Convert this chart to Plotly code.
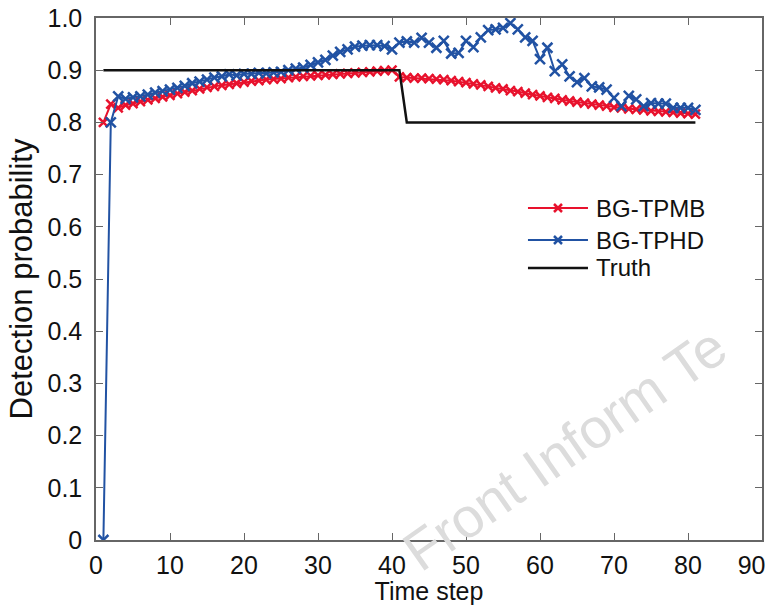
import plotly.graph_objects as go

time_steps = list(range(1, 82))

bg_tpmb = [
    0.800, 0.835, 0.828, 0.833, 0.836, 0.840, 0.843, 0.846, 0.849, 0.852,
    0.855, 0.858, 0.861, 0.864, 0.867, 0.869, 0.871, 0.873, 0.875, 0.877,
    0.879, 0.880, 0.882, 0.883, 0.884, 0.886, 0.887, 0.888, 0.889, 0.890,
    0.891, 0.892, 0.893, 0.894, 0.895, 0.896, 0.897, 0.898, 0.899, 0.900,
    0.887, 0.886, 0.885, 0.885, 0.884, 0.883, 0.882, 0.880, 0.878, 0.876,
    0.874, 0.872, 0.869, 0.866, 0.864, 0.861, 0.859, 0.856, 0.853, 0.851,
    0.848, 0.846, 0.843, 0.841, 0.839, 0.837, 0.835, 0.833, 0.831, 0.829,
    0.828, 0.826, 0.825, 0.824, 0.822, 0.821, 0.820, 0.819, 0.818, 0.817,
    0.816,
]

bg_tphd = [
    0.000, 0.800, 0.850, 0.845, 0.848, 0.850, 0.853, 0.857, 0.860, 0.863,
    0.866, 0.870, 0.875, 0.878, 0.882, 0.886, 0.888, 0.892, 0.890, 0.893,
    0.893, 0.895, 0.894, 0.896, 0.897, 0.900, 0.903, 0.905, 0.910, 0.915,
    0.920, 0.928, 0.935, 0.940, 0.945, 0.947, 0.948, 0.948, 0.946, 0.940,
    0.953, 0.955, 0.953, 0.962, 0.953, 0.943, 0.956, 0.932, 0.933, 0.956,
    0.944, 0.963, 0.977, 0.978, 0.981, 0.990, 0.978, 0.963, 0.956, 0.921,
    0.943, 0.898, 0.911, 0.888, 0.877, 0.885, 0.869, 0.867, 0.863, 0.847,
    0.831, 0.851, 0.844, 0.831, 0.837, 0.836, 0.836, 0.828, 0.828, 0.828,
    0.824,
]

truth = [0.9 if t <= 41 else 0.8 for t in time_steps]

x_ticks = [0, 10, 20, 30, 40, 50, 60, 70, 80, 90]
# last label padded with no-break spaces so it stays inside the picture as in the reference
x_ticktext = ["0", "10", "20", "30", "40", "50", "60", "70", "80", "90\u00a0\u00a0\u00a0"]
y_ticks = [0, 0.1, 0.2, 0.3, 0.4, 0.5, 0.6, 0.7, 0.8, 0.9, 1.0]
y_ticktext = ["0", "0.1", "0.2", "0.3", "0.4", "0.5", "0.6", "0.7", "0.8", "0.9", "1.0"]

series_names = ["BG-TPMB", "BG-TPHD", "Truth"]

RED = "#e8122d"
BLUE = "#2152a3"
BLACK = "#111111"
FONT = "Liberation Sans, Arial, sans-serif"

fig = go.Figure()
fig.add_trace(go.Scatter(
    x=time_steps, y=bg_tpmb, name=series_names[0], mode="lines+markers",
    line=dict(color=RED, width=2),
    marker=dict(symbol="x-thin", size=9, line=dict(color=RED, width=2.5)),
))
fig.add_trace(go.Scatter(
    x=time_steps, y=bg_tphd, name=series_names[1], mode="lines+markers",
    line=dict(color=BLUE, width=2),
    marker=dict(symbol="x-thin", size=10, line=dict(color=BLUE, width=2.5)),
))
fig.add_trace(go.Scatter(
    x=time_steps, y=truth, name=series_names[2], mode="lines",
    line=dict(color=BLACK, width=2.5),
))

axis_common = dict(
    showline=True, linecolor="#666666", linewidth=1.5, mirror="ticks",
    ticks="inside", ticklen=7, tickwidth=1.2, tickcolor="#666666",
    showgrid=False, zeroline=False, ticklabeloverflow="allow", automargin=False,
    tickfont=dict(family=FONT, size=25, color=BLACK),
)

fig.update_layout(
    width=765, height=605,
    margin=dict(l=96, r=3, t=18, b=65),
    paper_bgcolor="white", plot_bgcolor="white",
    font=dict(family=FONT, color=BLACK),
    xaxis=dict(range=[0, 90], tickvals=x_ticks, ticktext=x_ticktext, ticklabelstandoff=2,
               title=dict(text="Time step", font=dict(family=FONT, size=25), standoff=2),
               **axis_common),
    yaxis=dict(range=[0, 1.0], tickvals=y_ticks, ticktext=y_ticktext, ticklabelstandoff=7,
               title=dict(text="Detection probability", font=dict(family=FONT, size=31), standoff=6),
               **axis_common),
    showlegend=False,
)

# Manual legend (long line samples with a centred marker, as in the reference)
leg_x0, leg_x1, leg_xm, leg_xt = 0.6486, 0.7387, 0.6937, 0.7477
leg_rows = [0.636, 0.5747, 0.5211]
leg_colors = [RED, BLUE, BLACK]
leg_markers = [True, True, False]
for name, yy, col, has_m in zip(series_names, leg_rows, leg_colors, leg_markers):
    fig.add_shape(type="line", xref="paper", yref="paper",
                  x0=leg_x0, x1=leg_x1, y0=yy, y1=yy,
                  line=dict(color=col, width=2.5 if not has_m else 2))
    if has_m:
        fig.add_shape(type="path", xref="paper", yref="paper",
                      xsizemode="pixel", ysizemode="pixel",
                      xanchor=leg_xm, yanchor=yy,
                      path="M-4,-4L4,4M-4,4L4,-4",
                      line=dict(color=col, width=2.5))
    fig.add_annotation(text=name, x=leg_xt, y=yy, xref="paper", yref="paper",
                       xanchor="left", yanchor="middle", showarrow=False,
                       font=dict(family=FONT, size=24, color=BLACK))

fig.add_annotation(
    text="Front Inform Te", x=0.704, y=0.176, xref="paper", yref="paper",
    xanchor="center", yanchor="middle",
    showarrow=False, textangle=-35, font=dict(family=FONT, size=56, color="#dcdcdc"),
)

fig.write_html("out.html")
